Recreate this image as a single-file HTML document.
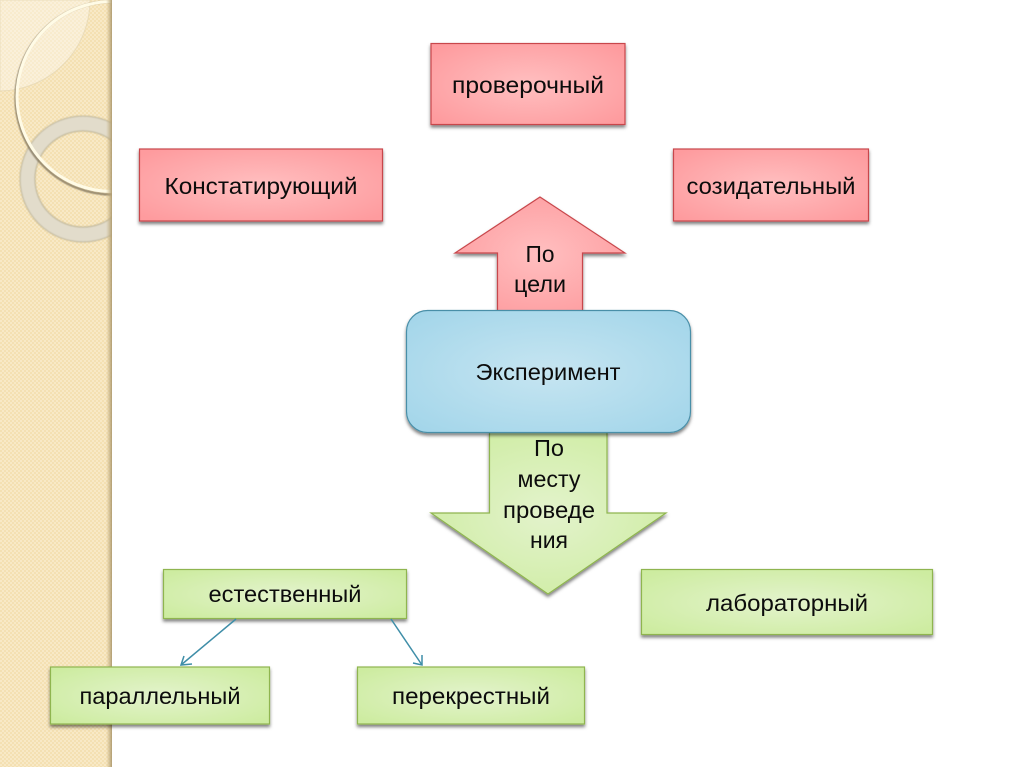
<!DOCTYPE html>
<html lang="ru"><head><meta charset="utf-8"><style>
html,body{margin:0;padding:0;background:#fff;width:1024px;height:767px;overflow:hidden}
svg{display:block}
text{font-family:"Liberation Sans","DejaVu Sans",sans-serif;font-size:23px;fill:#0c0c0c;text-anchor:middle}
</style></head><body>
<svg width="1024" height="767" viewBox="0 0 1024 767" xmlns="http://www.w3.org/2000/svg">
<defs>
<radialGradient id="r" cx="50%" cy="50%" r="65%"><stop offset="0" stop-color="#ffbfc0"/><stop offset="1" stop-color="#fe9b9e"/></radialGradient>
<radialGradient id="g" cx="50%" cy="50%" r="65%"><stop offset="0" stop-color="#e3f3cc"/><stop offset="1" stop-color="#cdeca0"/></radialGradient>
<radialGradient id="b" cx="50%" cy="50%" r="65%"><stop offset="0" stop-color="#c6e5f1"/><stop offset="1" stop-color="#a4d6ea"/></radialGradient>
<linearGradient id="edge" x1="0" x2="1"><stop offset="0" stop-color="#c9b587" stop-opacity="0"/><stop offset="1" stop-color="#b09d72"/></linearGradient>
<pattern id="tex" width="4" height="4" patternUnits="userSpaceOnUse"><rect width="4" height="4" fill="#f4e0b2"/><rect width="2" height="2" fill="#f8e9c6"/><rect x="2" y="2" width="2" height="2" fill="#f8e9c6"/></pattern>
<filter id="s" x="-10%" y="-10%" width="120%" height="125%"><feDropShadow dx="0" dy="2.500" stdDeviation="1.500" flood-color="#000" flood-opacity=".5"/></filter>
<filter id="blur"><feGaussianBlur stdDeviation=".6"/></filter>
<clipPath id="side"><rect width="112" height="767"/></clipPath>
</defs>

<rect width="112" height="767" fill="url(#tex)"/>
<g clip-path="url(#side)">
<path d="M0 91 A91 91 0 0 0 90 0 L0 0Z" fill="#fff" fill-opacity=".35" stroke="#e4d6b2" stroke-opacity=".7"/>
<circle cx="83" cy="179" r="55.500" fill="none" stroke="#e2dccb" stroke-width="15"/>
<circle cx="83" cy="179" r="63" fill="none" stroke="#b5ab8c" stroke-opacity=".55" stroke-width="1.500" filter="url(#blur)"/>
<circle cx="83" cy="179" r="48" fill="none" stroke="#b5ab8c" stroke-opacity=".6" stroke-width="1.500" filter="url(#blur)"/>
<circle cx="112" cy="98" r="96.500" fill="none" stroke="#7d7258" stroke-opacity=".75" stroke-width="2.500" filter="url(#blur)"/>
<circle cx="112" cy="96.500" r="95" fill="none" stroke="#fffbe6" stroke-width="3"/>
</g>
<rect x="106" width="6" height="767" fill="url(#edge)"/>

<rect x="431" y="43.500" width="194" height="81" fill="url(#r)" stroke="#c8474c" stroke-width="1.200" filter="url(#s)"/>
<rect x="139.500" y="149" width="243" height="72" fill="url(#r)" stroke="#c8474c" stroke-width="1.200" filter="url(#s)"/>
<rect x="673.500" y="149" width="195" height="72" fill="url(#r)" stroke="#c8474c" stroke-width="1.200" filter="url(#s)"/>

<path d="M540 197 L625 253 L582.500 253 L582.500 311 L497.500 311 L497.500 253 L455 253Z" fill="url(#r)" stroke="#c8474c" stroke-width="1.200" filter="url(#s)"/>

<path d="M489.500 432 L607 432 L607 513 L666 513 L548 594 L431 513 L489.500 513Z" fill="url(#g)" stroke="#8fb550" stroke-width="1.200" filter="url(#s)"/>

<rect x="406.500" y="310.500" width="284" height="122" rx="21" fill="url(#b)" stroke="#4a8fa8" stroke-width="1.200" filter="url(#s)"/>

<rect x="163.500" y="569.500" width="243" height="49" fill="url(#g)" stroke="#8fb550" stroke-width="1.200" filter="url(#s)"/>
<rect x="641.500" y="569.500" width="291" height="65" fill="url(#g)" stroke="#8fb550" stroke-width="1.200" filter="url(#s)"/>
<rect x="50.500" y="667" width="219" height="57" fill="url(#g)" stroke="#8fb550" stroke-width="1.200" filter="url(#s)"/>
<rect x="357.500" y="667" width="227" height="57" fill="url(#g)" stroke="#8fb550" stroke-width="1.200" filter="url(#s)"/>

<g fill="none" stroke="#3f8ea8" stroke-width="1.500">
<path d="M236 619 L181 665"/><path d="M192 664 L181 665 L184 656"/>
<path d="M391 619 L422 665"/><path d="M413 663 L422 665 L422 655"/>
</g>

<text x="528" y="93" textLength="152" lengthAdjust="spacingAndGlyphs">проверочный</text>
<text x="261" y="194" textLength="193" lengthAdjust="spacingAndGlyphs">Констатирующий</text>
<text x="771" y="194" textLength="169" lengthAdjust="spacingAndGlyphs">созидательный</text>
<text x="540" y="262" textLength="29" lengthAdjust="spacingAndGlyphs">По</text>
<text x="540" y="292" textLength="52" lengthAdjust="spacingAndGlyphs">цели</text>
<text x="548" y="380" textLength="145" lengthAdjust="spacingAndGlyphs">Эксперимент</text>
<text x="549" y="456" textLength="30" lengthAdjust="spacingAndGlyphs">По</text>
<text x="549" y="487" textLength="63" lengthAdjust="spacingAndGlyphs">месту</text>
<text x="549" y="518" textLength="92" lengthAdjust="spacingAndGlyphs">проведе</text>
<text x="549" y="548" textLength="38" lengthAdjust="spacingAndGlyphs">ния</text>
<text x="285" y="602" textLength="153" lengthAdjust="spacingAndGlyphs">естественный</text>
<text x="787" y="611" textLength="162" lengthAdjust="spacingAndGlyphs">лабораторный</text>
<text x="160" y="704" textLength="161" lengthAdjust="spacingAndGlyphs">параллельный</text>
<text x="471" y="704" textLength="158" lengthAdjust="spacingAndGlyphs">перекрестный</text>
</svg>
</body></html>
